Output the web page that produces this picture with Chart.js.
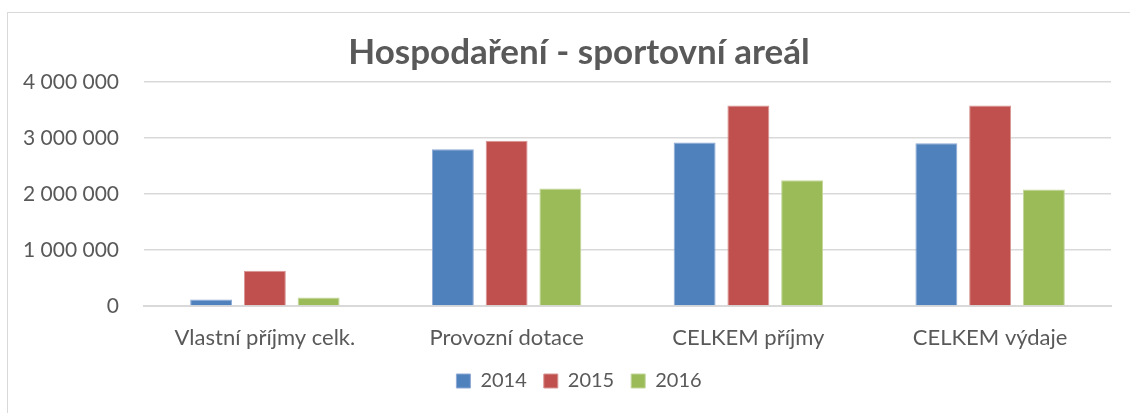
<!DOCTYPE html>
<html>
<head>
<meta charset="utf-8">
<script src="https://cdn.jsdelivr.net/npm/chart.js"></script>
<style>
  html, body { margin: 0; padding: 0; background: #fff; }
  #wrap { position: relative; width: 1130px; height: 413px; overflow: hidden; }
  #frame { position: absolute; left: 7px; top: 12px; width: 1140px; height: 420px; border: 1px solid #d9d9d9; box-sizing: border-box; }
  canvas { position: absolute; left: 0; top: 0; }
</style>
</head>
<body>
<div id="wrap">
  <div id="frame"></div>
  <canvas id="barChart" width="1130" height="413"></canvas>
</div>
<script>
  // data
  const categories = ['Vlastní příjmy celk.', 'Provozní dotace', 'CELKEM příjmy', 'CELKEM výdaje'];
  const years = ['2014', '2015', '2016'];
  const values2014 = [114000, 2800000, 2920000, 2905000];
  const values2015 = [630000, 2950000, 3580000, 3580000];
  const values2016 = [150000, 2100000, 2245000, 2080000];
  const yTicks = [0, 1000000, 2000000, 3000000, 4000000];

  const fillColors = ['#4F81BD', '#C0504D', '#9BBB59'];
  const edgeColors = ['#8EA9D4', '#D89593', '#C3D69B'];
  const font = 'Lato, "Liberation Sans", sans-serif';

  // title and legend in the original sit a bit right of the canvas centre
  const boxShift = {
    id: 'boxShift',
    afterLayout(chart) {
      chart.legend.left = 48;
      chart.legend.right = 1110;
      chart.titleBlock.left = 48;
      chart.titleBlock.right = 1110;
    }
  };

  const ctx = document.getElementById('barChart').getContext('2d');
  new Chart(ctx, {
    type: 'bar',
    data: {
      labels: categories,
      datasets: [values2014, values2015, values2016].map((v, i) => ({
        label: years[i],
        data: v,
        backgroundColor: fillColors[i],
        borderColor: edgeColors[i],
        borderWidth: 1,
        categoryPercentage: 0.667,
        barPercentage: 0.78
      }))
    },
    options: {
      responsive: false,
      animation: false,
      layout: { padding: { left: 0, right: 19, top: 0, bottom: 12 } },
      scales: {
        x: {
          grid: { display: false, drawTicks: false },
          border: { display: true, color: '#d9d9d9', width: 2 },
          ticks: { color: '#595959', font: { family: font, size: 22 }, padding: 19 },
          afterFit: s => { s.height = 48; }
        },
        y: {
          min: 0,
          max: 4000000,
          afterBuildTicks: s => { s.ticks = yTicks.map(v => ({ value: v })); },
          grid: { color: '#d9d9d9', lineWidth: 1.5, drawTicks: false },
          border: { display: false },
          ticks: {
            color: '#595959',
            font: { family: font, size: 21 },
            padding: 25,
            callback: v => v.toString().replace(/\B(?=(\d{3})+(?!\d))/g, ' ')
          },
          afterFit: s => { s.width = 144; }
        }
      },
      plugins: {
        legend: {
          display: true,
          position: 'bottom',
          labels: {
            color: '#595959',
            font: { family: font, size: 20 },
            boxWidth: 14,
            boxHeight: 14,
            padding: 17
          }
        },
        title: {
          display: true,
          text: 'Hospodaření - sportovní areál',
          color: '#595959',
          font: { family: font, size: 35, weight: 'bold' },
          padding: { top: 32, bottom: 8 }
        },
        tooltip: { enabled: false }
      }
    },
    plugins: [boxShift]
  });
</script>
</body>
</html>
